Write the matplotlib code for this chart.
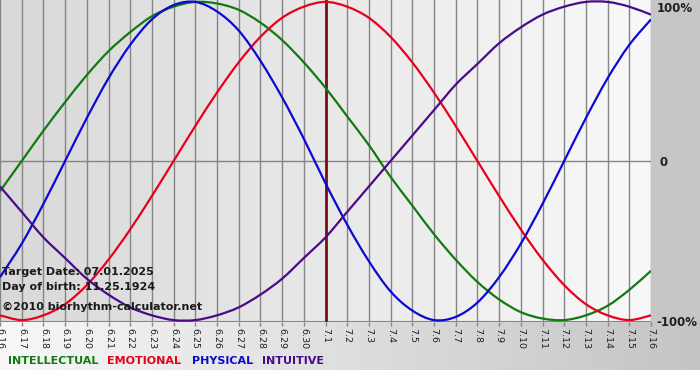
import numpy as np
import matplotlib
matplotlib.use("Agg")
import matplotlib.pyplot as plt
from matplotlib.path import Path
from matplotlib.patches import PathPatch

# day labels 6.16 .. 7.16
days = ["6.16", "6.17", "6.18", "6.19", "6.20", "6.21", "6.22", "6.23", "6.24", "6.25",
        "6.26", "6.27", "6.28", "6.29", "6.30", "7.1", "7.2", "7.3", "7.4", "7.5",
        "7.6", "7.7", "7.8", "7.9", "7.10", "7.11", "7.12", "7.13", "7.14", "7.15", "7.16"]
target_day = "7.1"

intellectual = [-0.19, 0.00, 0.19, 0.37, 0.54, 0.69, 0.81, 0.91, 0.97, 1.00, 0.99, 0.95, 0.87, 0.76, 0.62, 0.46,
                0.28, 0.10, -0.10, -0.28, -0.46, -0.62, -0.76, -0.87, -0.95, -0.99, -1.00, -0.97, -0.91, -0.81, -0.69]
emotional = [-0.97, -1.00, -0.97, -0.90, -0.78, -0.62, -0.43, -0.22, 0.00, 0.22, 0.43, 0.62, 0.78, 0.90, 0.97, 1.00,
             0.97, 0.90, 0.78, 0.62, 0.43, 0.22, 0.00, -0.22, -0.43, -0.62, -0.78, -0.90, -0.97, -1.00, -0.97]
physical = [-0.73, -0.52, -0.27, 0.00, 0.27, 0.52, 0.73, 0.89, 0.98, 1.00, 0.94, 0.82, 0.63, 0.40, 0.14, -0.14,
            -0.40, -0.63, -0.82, -0.94, -1.00, -0.98, -0.89, -0.73, -0.52, -0.27, 0.00, 0.27, 0.52, 0.73, 0.89]
intuitive = [-0.16, -0.32, -0.48, -0.61, -0.74, -0.84, -0.92, -0.97, -1.00, -1.00, -0.97, -0.92, -0.84, -0.74, -0.61, -0.48,
             -0.32, -0.16, 0.00, 0.16, 0.32, 0.48, 0.61, 0.74, 0.84, 0.92, 0.97, 1.00, 1.00, 0.97, 0.92]

series = [("INTELLECTUAL", intellectual, "#117a11"),
          ("EMOTIONAL", emotional, "#e8001c"),
          ("PHYSICAL", physical, "#0a0ad0"),
          ("INTUITIVE", intuitive, "#4a0a8a")]


def smooth_path(xs, ys):
    # cubic bezier through the daily points (catmull-rom style handles)
    pts = np.column_stack([xs, ys]).astype(float)
    n = len(pts)
    verts = [pts[0]]
    codes = [Path.MOVETO]
    for i in range(n - 1):
        p0 = pts[max(i - 1, 0)]
        p1 = pts[i]
        p2 = pts[i + 1]
        p3 = pts[min(i + 2, n - 1)]
        verts += [p1 + (p2 - p0) / 6, p2 - (p3 - p1) / 6, p2]
        codes += [Path.CURVE4] * 3
    return Path(verts, codes)


W, H = 700, 380
fig = plt.figure(figsize=(W / 100, H / 100), dpi=100)

# page background: gray margin, gradient strip under the plot, white bottom band
bg = np.full((H, W, 3), 0.78)
grad = np.linspace(0.97, 0.77, W)
bg[321:370, :, :] = grad[None, :, None]
bg[370:, :, :] = 1.0
bga = fig.add_axes([0, 0, 1, 1], zorder=-5)
bga.imshow(bg, aspect="auto", extent=(0, W, H, 0))
bga.axis("off")

ax = fig.add_axes([0, 1 - 322 / H, 651 / W, 322 / H])
x = np.arange(len(days))
ymin, ymax = -1.012, 1.012

# plot area gradient, darker on the left
pg = np.linspace(0.85, 0.975, 200)
pimg = np.tile(np.dstack([pg, pg, pg]), (2, 1, 1))
ax.imshow(pimg, aspect="auto", extent=(x[0], x[-1], ymin, ymax), zorder=0)

for xi in x:
    ax.axvline(xi, color="#858585", lw=1, zorder=1)
ax.axhline(0, color="#858585", lw=1, zorder=1)
ax.axhline(ymin, color="#858585", lw=1.5, zorder=1)

ax.axvline(days.index(target_day), color="#7a1010", lw=2, zorder=2)

for name, vals, col in series:
    ax.add_patch(PathPatch(smooth_path(x, vals), facecolor="none", edgecolor=col,
                           lw=1.6, zorder=3))

ax.set_xlim(x[0], x[-1])
ax.set_ylim(ymin, ymax)
for s in ax.spines.values():
    s.set_visible(False)
ax.set_yticks([])
ax.set_xticks(x)
ax.set_xticklabels(days, rotation=-90, fontsize=6.8, color="#202020")
ax.tick_params(axis="x", length=3, width=1, color="#858585", pad=1)

# right axis labels
ax.text(1.008, 0.995, "100%", transform=ax.transAxes, fontsize=8.5, fontweight="bold",
        va="top", ha="left", color="#202020")
ax.text(1.013, 0.495, "0", transform=ax.transAxes, fontsize=8.5, fontweight="bold",
        va="center", ha="left", color="#202020")
ax.text(1.008, 0.0, "-100%", transform=ax.transAxes, fontsize=8.5, fontweight="bold",
        va="center", ha="left", color="#202020")

# info text
info = [("Target Date: 07.01.2025", 272), ("Day of birth: 11.25.1924", 287),
        ("\u00a92010 biorhythm-calculator.net", 307)]
for txt, py in info:
    fig.text(2 / W, 1 - py / H, txt, fontsize=8, fontweight="bold", va="center",
             ha="left", color="#1a1a1a", zorder=5)

# legend
lx = [8, 107, 192, 262]
for (name, vals, col), px in zip(series, lx):
    fig.text(px / W, 1 - 361 / H, name, fontsize=8, fontweight="bold", color=col,
             va="center", ha="left")

fig.savefig("out.png", dpi=100)
